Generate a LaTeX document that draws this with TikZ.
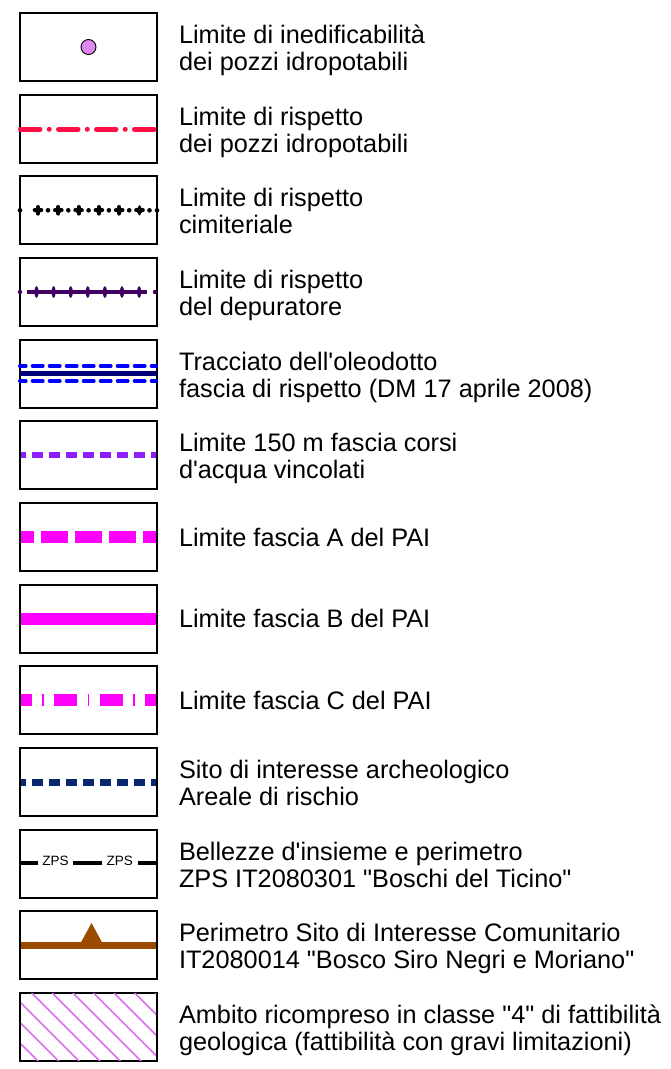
\documentclass[tikz,border=0pt]{standalone}
\usepackage{fontspec}
\newfontfamily\arialf{Liberation Sans}
\usetikzlibrary{calc}
\definecolor{pinkred}{RGB}{255,15,70}
\definecolor{deppurple}{RGB}{64,0,100}
\definecolor{pipeblue}{RGB}{0,0,255}
\definecolor{pipenavy}{RGB}{0,0,120}
\definecolor{rivviolet}{RGB}{140,30,255}
\definecolor{paimag}{RGB}{255,0,255}
\definecolor{archnavy}{RGB}{10,40,110}
\definecolor{sicbrown}{RGB}{155,75,0}
\definecolor{hatchviolet}{RGB}{220,110,240}
\definecolor{wellviolet}{RGB}{225,135,240}
\begin{document}
\begin{tikzpicture}[x=1pt,y=-1pt,
  legbox/.style={draw=black,line width=2pt,minimum width=137pt,minimum height=68pt,inner sep=0pt,outer sep=0pt},
  lab/.style={anchor=base west,inner sep=0pt,outer sep=0pt,font=\arialf\fontsize{25.3}{27}\selectfont},
  zpslab/.style={fill=white,inner xsep=4.8pt,inner ysep=1pt,font=\arialf\fontsize{13.5}{14}\selectfont},
  pluscross/.style={line width=3.8pt,line cap=round}
]
\useasboundingbox (0,0) rectangle (671,1069);
\fill[white] (0,0) rectangle (671,1069);

% ---- boxes ----
\node[legbox] (b1) at (88.5,47) {};
\node[legbox] (b2) at (88.5,128.7) {};
\node[legbox] (b3) at (88.5,210.3) {};
\node[legbox] (b4) at (88.5,292) {};
\node[legbox] (b5) at (88.5,373.7) {};
\node[legbox] (b6) at (88.5,455.3) {};
\node[legbox] (b7) at (88.5,537) {};
\node[legbox] (b8) at (88.5,618.7) {};
\node[legbox] (b9) at (88.5,700.3) {};
\node[legbox] (b10) at (88.5,782) {};
\node[legbox] (b11) at (88.5,863.7) {};
\node[legbox] (b12) at (88.5,945.3) {};
\node[legbox,line width=1.6pt] (b13) at (88.5,1027) {};

% ---- 1: well ----
\node[circle,draw=black,line width=0.9pt,fill=wellviolet,minimum size=15pt,inner sep=0pt] (s1) at (b1.center) {};

% ---- 2: red dash-dot ----
\draw[pinkred,line width=5pt,line cap=round,dash pattern=on 19.5pt off 9.25pt on 0pt off 9.25pt]
  ($(b2.west)+(0.5,0.6)$) -- ($(b2.east)+(-1.2,0.6)$);

% ---- 3: cemetery ----
\fill (b3.west) circle (2.3);
\fill (b3.east) circle (2.3);
\foreach \k in {0,...,5}{
  \fill ($(b3.west)+({28+20.3*\k},0)$) circle (2.3);
  \fill ($(b3.west)+({18+20.3*\k},0)$) circle (3.3);
  \draw[pluscross] ($(b3.west)+({18+20.3*\k-3.4},0)$) -- ++(6.8,0);
  \draw[pluscross] ($(b3.west)+({18+20.3*\k},-3.4)$) -- ++(0,6.8);
}

% ---- 4: depuratore ----
\fill[deppurple] (b4.west) circle (2.2);
\fill[deppurple] ($(b4.east)+(-2,0)$) circle (2.2);
\draw[deppurple,line width=3.5pt] ($(b4.west)+(7,0)$) -- ($(b4.east)+(-10,0)$);
\foreach \k in {0,...,6}{
  \fill[deppurple] ($(b4.west)+({16.5+17.1*\k},0)$) ellipse [x radius=2, y radius=6];
}

% ---- 5: oleodotto ----
\draw[pipeblue,line width=4pt,line cap=round,dash pattern=on 10pt off 7pt,dash phase=4.3pt]
  ($(b5.west)+(0,-7.7)$) -- ($(b5.east)+(-1,-7.7)$);
\draw[pipeblue,line width=4pt,line cap=round,dash pattern=on 10pt off 7pt,dash phase=4.3pt]
  ($(b5.west)+(0,7.3)$) -- ($(b5.east)+(-1,7.3)$);
\draw[pipenavy,line width=5pt] (b5.west) -- (b5.east);

% ---- 6: corsi d'acqua ----
\draw[rivviolet,line width=6pt,dash pattern=on 11pt off 6pt,dash phase=5.7pt]
  ($(b6.west)+(1,0)$) -- ($(b6.east)+(-1,0)$);

% ---- 7: PAI A ----
\draw[paimag,line width=12pt,dash pattern=on 27.3pt off 6.7pt,dash phase=14pt]
  ($(b7.west)+(1,0)$) -- ($(b7.east)+(-1,0)$);

% ---- 8: PAI B ----
\draw[paimag,line width=12pt] ($(b8.west)+(1,0)$) -- ($(b8.east)+(-1,0)$);

% ---- 9: PAI C ----
\draw[paimag,line width=12pt,dash pattern=on 23pt off 10.5pt on 1.5pt off 10.5pt,dash phase=12.2pt]
  ($(b9.west)+(1,0)$) -- ($(b9.east)+(-1,0)$);

% ---- 10: archeologico ----
\draw[archnavy,line width=7pt,dash pattern=on 11pt off 6pt,dash phase=5.7pt]
  ($(b10.west)+(1,0)$) -- ($(b10.east)+(-1,0)$);

% ---- 11: ZPS ----
\draw[black,line width=4pt] ($(b11.west)+(0,-0.4)$) -- ($(b11.east)+(0,-0.4)$);
\node[zpslab] (z1) at ($(b11.west)+(35.5,-2.4)$) {ZPS};
\node[zpslab] (z2) at ($(b11.west)+(99.7,-2.4)$) {ZPS};

% ---- 12: SIC ----
\draw[sicbrown,line width=7.5pt] ($(b12.west)+(1,0)$) -- ($(b12.east)+(-1,0)$);
\fill[sicbrown] ($(b12.west)+(71.5,-22.3)$) -- ($(b12.west)+(61,-3)$) -- ($(b12.west)+(82,-3)$) -- cycle;

% ---- 13: hatch ----
\begin{scope}
  \clip ($(b13.south west)+(0.8,-0.8)$) rectangle ($(b13.north east)+(-0.8,0.8)$);
  \foreach \k in {-3,...,6}{
    \draw[hatchviolet,line width=1.6pt] ({31.7+20.6*\k},993) -- ++(69,69);
  }
\end{scope}

% ---- labels ----
\node[lab] (t1a) at ($(b1.center)+(90.5,-3.5)$) {Limite di inedificabilità};
\node[lab] (t1b) at ($(b1.center)+(90.5,23.5)$) {dei pozzi idropotabili};
\node[lab] (t2a) at ($(b2.center)+(90.5,-3.5)$) {Limite di rispetto};
\node[lab] (t2b) at ($(b2.center)+(90.5,23.5)$) {dei pozzi idropotabili};
\node[lab] (t3a) at ($(b3.center)+(90.5,-3.5)$) {Limite di rispetto};
\node[lab] (t3b) at ($(b3.center)+(90.5,23.5)$) {cimiteriale};
\node[lab] (t4a) at ($(b4.center)+(90.5,-3.5)$) {Limite di rispetto};
\node[lab] (t4b) at ($(b4.center)+(90.5,23.5)$) {del depuratore};
\node[lab] (t5a) at ($(b5.center)+(90.5,-3.5)$) {Tracciato dell'oleodotto};
\node[lab] (t5b) at ($(b5.center)+(90.5,23.5)$) {fascia di rispetto (DM 17 aprile 2008)};
\node[lab] (t6a) at ($(b6.center)+(90.5,-3.5)$) {Limite 150 m fascia corsi};
\node[lab] (t6b) at ($(b6.center)+(90.5,23.5)$) {d'acqua vincolati};
\node[lab] (t7a) at ($(b7.center)+(90.5,9)$) {Limite fascia A del PAI};
\node[lab] (t8a) at ($(b8.center)+(90.5,9)$) {Limite fascia B del PAI};
\node[lab] (t9a) at ($(b9.center)+(90.5,9)$) {Limite fascia C del PAI};
\node[lab] (t10a) at ($(b10.center)+(90.5,-3.5)$) {Sito di interesse archeologico};
\node[lab] (t10b) at ($(b10.center)+(90.5,23.5)$) {Areale di rischio};
\node[lab] (t11a) at ($(b11.center)+(90.5,-3.5)$) {Bellezze d'insieme e perimetro};
\node[lab] (t11b) at ($(b11.center)+(90.5,23.5)$) {ZPS IT2080301 "Boschi del Ticino"};
\node[lab] (t12a) at ($(b12.center)+(90.5,-3.5)$) {Perimetro Sito di Interesse Comunitario};
\node[lab] (t12b) at ($(b12.center)+(90.5,23.5)$) {IT2080014 "Bosco Siro Negri e Moriano"};
\node[lab] (t13a) at ($(b13.center)+(90.5,-3.5)$) {Ambito ricompreso in classe "4" di fattibilità};
\node[lab] (t13b) at ($(b13.center)+(90.5,23.5)$) {geologica (fattibilità con gravi limitazioni)};
\end{tikzpicture}
\end{document}
